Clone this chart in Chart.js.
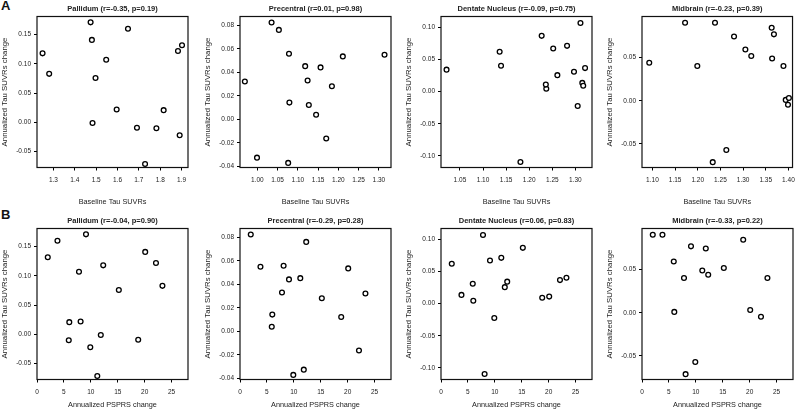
<!DOCTYPE html>
<html>
<head>
<meta charset="utf-8">
<script src="https://cdn.jsdelivr.net/npm/chart.js@4.4.1/dist/chart.umd.min.js"></script>
<style>
  body { margin: 0; background: #fff; width: 800px; height: 419px; position: relative; overflow: hidden; font-family: "Liberation Sans", Arial, sans-serif; }
  .panel { position: absolute; }
  .tag { position: absolute; font-weight: bold; font-size: 13px; color: #111; }
</style>
</head>
<body>
<div class="tag" style="left:1px;top:-2px">A</div>
<div class="tag" style="left:1px;top:207px">B</div>
<canvas class="panel" id="a0" width="196" height="210" style="left:0px;top:0px"></canvas>
<canvas class="panel" id="a1" width="196" height="210" style="left:203px;top:0px"></canvas>
<canvas class="panel" id="a2" width="196" height="210" style="left:404px;top:0px"></canvas>
<canvas class="panel" id="a3" width="196" height="210" style="left:605px;top:0px"></canvas>
<canvas class="panel" id="b0" width="196" height="200" style="left:0px;top:212px"></canvas>
<canvas class="panel" id="b1" width="196" height="200" style="left:203px;top:212px"></canvas>
<canvas class="panel" id="b2" width="196" height="200" style="left:404px;top:212px"></canvas>
<canvas class="panel" id="b3" width="196" height="200" style="left:605px;top:212px"></canvas>
<script>
// 16 subjects, same order in every array
const psprsChange = [2.0, 3.8, 5.9, 6.0, 7.8, 8.1, 9.1, 9.9, 11.2, 11.85, 12.3, 15.2, 18.8, 20.1, 22.1, 23.3];

const pallidumBaseline = [1.902, 1.649, 1.782, 1.816, 1.547, 1.596, 1.474, 1.891, 1.729, 1.483, 1.249, 1.497, 1.691, 1.480, 1.883, 1.280];
const pallidumChange = [0.132, 0.160, -0.010, 0.021, 0.107, 0.022, 0.171, -0.022, -0.071, -0.001, 0.118, 0.076, -0.009, 0.141, 0.122, 0.083];

const precentralBaseline = [1.035, 1.314, 1.145, 1.079, 1.124, 1.078, 1.156, 1.076, 1.118, 0.999, 1.053, 1.184, 1.127, 1.211, 1.170, 0.969];
const precentralChange = [0.0826, 0.0551, 0.0040, 0.0143, 0.0331, 0.0560, 0.0443, -0.0371, 0.0454, -0.0326, 0.0763, 0.0283, 0.0123, 0.0537, -0.0163, 0.0323];

const dentateBaseline = [1.136, 1.315, 1.297, 1.237, 1.311, 1.181, 1.252, 1.305, 1.282, 1.261, 1.021, 1.227, 1.317, 1.236, 1.321, 1.139];
const dentateChange = [0.0618, 0.0134, 0.0307, 0.0043, 0.1066, -0.1095, 0.0668, -0.0224, 0.0710, 0.0255, 0.0340, 0.0865, 0.0090, 0.0108, 0.0364, 0.0400];

const midbrainBaseline = [1.172, 1.238, 1.305, 1.394, 1.199, 1.233, 1.368, 1.263, 1.364, 1.280, 1.093, 1.318, 1.363, 1.401, 1.399, 1.389];
const midbrainChange = [0.0905, 0.0905, 0.0595, 0.0010, 0.0404, -0.0713, 0.0771, -0.0571, 0.0491, 0.0745, 0.0441, 0.0520, 0.0847, 0.0031, -0.0047, 0.0404];

// 제목 / 통계
const regionNames = ['Pallidum', 'Precentral', 'Dentate Nucleus', 'Midbrain'];
const baselineR = [-0.35, 0.01, -0.09, -0.23];
const baselineP = [0.19, 0.98, 0.75, 0.39];
const psprsR = [-0.04, -0.29, 0.06, -0.33];
const psprsP = [0.90, 0.28, 0.83, 0.22];

// tick labels
const pallidumBaselineTicks = [1.3, 1.4, 1.5, 1.6, 1.7, 1.8, 1.9];
const precentralBaselineTicks = [1.00, 1.05, 1.10, 1.15, 1.20, 1.25, 1.30];
const dentateBaselineTicks = [1.05, 1.10, 1.15, 1.20, 1.25, 1.30];
const midbrainBaselineTicks = [1.10, 1.15, 1.20, 1.25, 1.30, 1.35, 1.40];
const psprsTicks = [0, 5, 10, 15, 20, 25];
const pallidumChangeTicks = [-0.05, 0.00, 0.05, 0.10, 0.15];
const precentralChangeTicks = [-0.04, -0.02, 0.00, 0.02, 0.04, 0.06, 0.08];
const dentateChangeTicks = [-0.10, -0.05, 0.00, 0.05, 0.10];
const midbrainChangeTicks = [-0.05, 0.00, 0.05];

const regions = [
  { base: pallidumBaseline, change: pallidumChange, baseTicks: pallidumBaselineTicks, changeTicks: pallidumChangeTicks,
    xMin: 1.223, xMax: 1.93, xDec: 1, yMin: -0.077, yMax: 0.181 },
  { base: precentralBaseline, change: precentralChange, baseTicks: precentralBaselineTicks, changeTicks: precentralChangeTicks,
    xMin: 0.957, xMax: 1.330, xDec: 2, yMin: -0.041, yMax: 0.0877 },
  { base: dentateBaseline, change: dentateChange, baseTicks: dentateBaselineTicks, changeTicks: dentateChangeTicks,
    xMin: 1.009, xMax: 1.336, xDec: 2, yMin: -0.118, yMax: 0.1166 },
  { base: midbrainBaseline, change: midbrainChange, baseTicks: midbrainBaselineTicks, changeTicks: midbrainChangeTicks,
    xMin: 1.077, xMax: 1.409, xDec: 2, yMin: -0.0775, yMax: 0.0978 }
];

const textColor = '#222';
const fontFamily = '"Liberation Sans", Arial, sans-serif';

// 네모 테두리
const framePlugin = {
  id: 'frame',
  beforeDatasetsDraw(chart) {
    const { ctx, chartArea: a } = chart;
    ctx.save();
    ctx.strokeStyle = '#111';
    ctx.lineWidth = 1.2;
    ctx.strokeRect(a.left, a.top, a.right - a.left, a.bottom - a.top);
    ctx.restore();
  }
};

function makePanel(id, title, xs, ys, xOpts, yOpts, xTitle, xScaleHeight, xTitlePad) {
  const points = xs.map((x, i) => ({ x: x, y: ys[i] }));
  return new Chart(document.getElementById(id), {
    type: 'scatter',
    data: {
      datasets: [{
        data: points,
        pointRadius: 2.4,
        pointBorderWidth: 1.3,
        pointBorderColor: '#000',
        pointBackgroundColor: '#fff'
      }]
    },
    options: {
      responsive: false,
      animation: false,
      layout: { padding: { left: 0, right: 8, top: 0, bottom: 0 } },
      plugins: {
        legend: { display: false },
        tooltip: { enabled: false },
        title: {
          display: true,
          text: title,
          fullSize: false,
          color: textColor,
          font: { family: fontFamily, size: 7.5, weight: 'bold', lineHeight: 1.2 },
          padding: { top: 4, bottom: 3.5 }
        }
      },
      scales: {
        x: {
          type: 'linear',
          min: xOpts.min,
          max: xOpts.max,
          afterBuildTicks: s => { s.ticks = xOpts.ticks.map(v => ({ value: v })); },
          afterFit: s => { s.height = xScaleHeight; },
          border: { display: false },
          grid: { drawOnChartArea: false, drawTicks: true, tickLength: 3, color: '#000', lineWidth: 1 },
          ticks: {
            autoSkip: false, maxRotation: 0, padding: 6, color: textColor,
            font: { family: fontFamily, size: 6.5 },
            callback: v => Number(v).toFixed(xOpts.dec)
          },
          title: {
            display: true, text: xTitle, color: textColor,
            font: { family: fontFamily, size: 7.3, lineHeight: 1.2 },
            padding: { top: 0, bottom: xTitlePad }
          }
        },
        y: {
          type: 'linear',
          min: yOpts.min,
          max: yOpts.max,
          afterBuildTicks: s => { s.ticks = yOpts.ticks.map(v => ({ value: v })); },
          afterFit: s => { s.width = 37; },
          border: { display: false },
          grid: { drawOnChartArea: false, drawTicks: true, tickLength: 3, color: '#000', lineWidth: 1 },
          ticks: {
            autoSkip: false, padding: 3, color: textColor,
            font: { family: fontFamily, size: 6.5 },
            callback: v => Number(v).toFixed(2)
          },
          title: {
            display: true, text: 'Annualized Tau SUVRs change', color: textColor,
            font: { family: fontFamily, size: 7.8, lineHeight: 1.2 },
            padding: { top: 0, bottom: 0 }
          }
        }
      }
    },
    plugins: [framePlugin]
  });
}

regions.forEach((r, i) => {
  const yOpts = { min: r.yMin, max: r.yMax, ticks: r.changeTicks };
  makePanel('a' + i,
    `${regionNames[i]} (r=${baselineR[i].toFixed(2)}, p=${baselineP[i].toFixed(2)})`,
    r.base, r.change,
    { min: r.xMin, max: r.xMax, ticks: r.baseTicks, dec: r.xDec },
    yOpts, 'Baseline Tau SUVRs', 42.5, 3.9);
  makePanel('b' + i,
    `${regionNames[i]} (r=${psprsR[i].toFixed(2)}, p=${psprsP[i].toFixed(2)})`,
    psprsChange, r.change,
    { min: 0, max: 28.05, ticks: psprsTicks, dec: 0 },
    yOpts, 'Annualized PSPRS change', 32.5, 2.6);
});
</script>
</body>
</html>
